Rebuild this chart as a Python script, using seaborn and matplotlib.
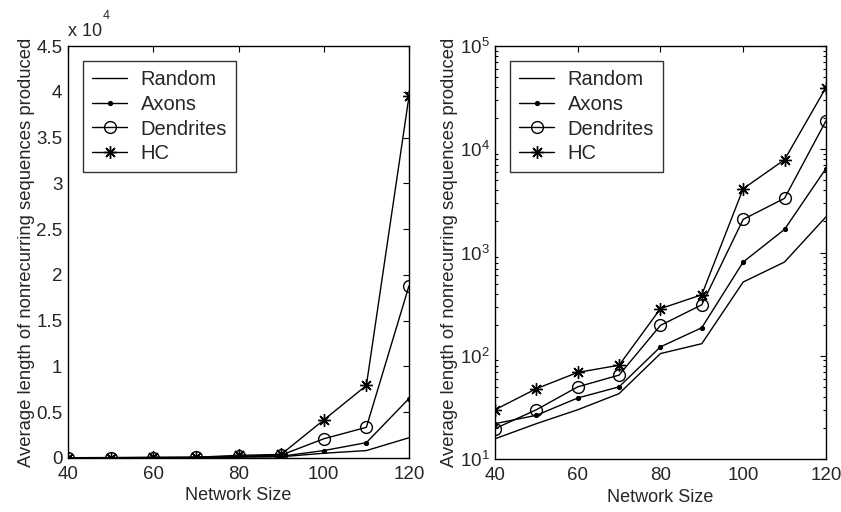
import matplotlib
matplotlib.use("Agg")
import matplotlib.pyplot as plt
import seaborn as sns
import numpy as np
import pandas as pd
from matplotlib.ticker import FuncFormatter, LogLocator, NullFormatter

sns.set_style("white")
plt.rcParams['font.family'] = ['Liberation Sans', 'DejaVu Sans']
plt.rcParams['mathtext.default'] = 'regular'

network_size = [40, 50, 60, 70, 80, 90, 100, 110, 120]
random_vals = [15.7, 22, 30, 43, 105, 131, 518, 809, 2210]
axons_vals = [22, 26.5, 39, 50, 122, 187, 809, 1675, 6490]
dendrites_vals = [19.7, 30, 50, 65, 197, 312, 2095, 3350, 18800]
hc_vals = [30, 48, 69, 81, 286, 390, 4150, 7920, 39500]

series_names = ["Random", "Axons", "Dendrites", "HC"]
series_values = [random_vals, axons_vals, dendrites_vals, hc_vals]
styles = {
    "Random": dict(marker=None),
    "Axons": dict(marker='.', markersize=6, markerfacecolor='black', markeredgecolor='black'),
    "Dendrites": dict(marker='o', markersize=8.5, markerfacecolor='none', markeredgecolor='black', markeredgewidth=1.0),
    "HC": dict(marker=(8, 2, 0), markersize=9, markerfacecolor='black', markeredgecolor='black', markeredgewidth=1.0),
}

fig = plt.figure(figsize=(8.41, 5.12), dpi=100)
ax1 = fig.add_axes([0.0809, 0.1055, 0.4054, 0.8045])
ax2 = fig.add_axes([0.5886, 0.1035, 0.3934, 0.8065])

for ax in (ax1, ax2):
    for name, vals in zip(series_names, series_values):
        sns.lineplot(x=network_size, y=vals, ax=ax, color='black', linewidth=1.0,
                     label=name, **styles[name])

def style_axes(ax):
    ax.set_xlim(40, 120)
    ax.set_xticks([40, 60, 80, 100, 120])
    ax.tick_params(axis='both', which='both', direction='in', top=True, right=True,
                   labelsize=13.5, color='black', length=4, width=0.8, pad=4)
    ax.tick_params(axis='x', which='major', pad=6)
    ax.tick_params(axis='both', which='minor', length=2.5)
    for s in ax.spines.values():
        s.set_color('black')
        s.set_linewidth(1.0)
    ax.set_xlabel("Network Size", fontsize=13, labelpad=3)
    ax.set_ylabel("Average length of nonrecurring sequences produced", fontsize=13.3, labelpad=1)
    leg = ax.legend(loc='upper left', fontsize=14.5, frameon=True, fancybox=False,
                    edgecolor='black', handlelength=1.75, borderpad=0.45,
                    labelspacing=0.28, borderaxespad=0.75, handletextpad=0.65)
    leg.get_frame().set_linewidth(1.0)

# Left panel (linear, x 10^4)
ax1.set_ylim(0, 45000)
ax1.set_yticks(np.arange(0, 45001, 5000))
ax1.yaxis.set_major_formatter(FuncFormatter(lambda v, p: ('%g' % (v / 1e4))))
style_axes(ax1)
ax1.text(0.0, 1.015, "x 10", transform=ax1.transAxes, fontsize=13, ha='left', va='bottom')
ax1.text(0.103, 1.058, "4", transform=ax1.transAxes, fontsize=9, ha='left', va='bottom')

# Right panel (log)
ax2.set_yscale('log')
ax2.set_ylim(10, 1e5)
style_axes(ax2)
ax2.yaxis.set_major_locator(LogLocator(base=10, numticks=10))
ax2.yaxis.set_minor_locator(LogLocator(base=10, subs=np.arange(2, 10), numticks=20))
ax2.yaxis.set_minor_formatter(NullFormatter())
ax2.tick_params(axis='y', which='minor', direction='in', length=2.5, right=True, left=True)

fig.savefig("out.png", dpi=100)
